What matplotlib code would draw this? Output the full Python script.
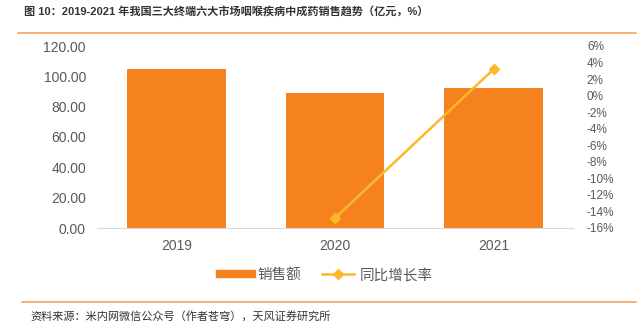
import matplotlib
matplotlib.use("Agg")
import matplotlib.pyplot as plt
from matplotlib.lines import Line2D

# data
years = ["2019", "2020", "2021"]
sales = [104.9, 89.2, 92.3]          # 销售额 (亿元)
growth = [None, -14.8, 3.2]          # 同比增长率 (%)
left_ticks = [0, 20, 40, 60, 80, 100, 120]
right_ticks = list(range(-16, 7, 2))

title = "图 10：2019-2021 年我国三大终端六大市场咽喉疾病中成药销售趋势（亿元，%）"
source = "资料来源：米内网微信公众号（作者苍穹），天风证券研究所"

plt.rcParams['font.family'] = ['Liberation Sans', 'Noto Sans CJK SC', 'DejaVu Sans']

bar_color = "#F5821F"
line_color = "#FBB829"
tick_color = "#595959"

fig = plt.figure(figsize=(6.4, 3.29), dpi=100)
ax = fig.add_axes([97 / 640, 1 - 228 / 329, 476 / 640, 182 / 329])

x = list(range(len(years)))
ax.bar(x, sales, width=0.62, color=bar_color, zorder=2)
ax.set_xlim(-0.5, 2.5)
ax.set_ylim(0, 120)
ax.set_yticks(left_ticks)
ax.set_yticklabels([f"{v:.2f}" for v in left_ticks], fontsize=10, color=tick_color)
ax.set_xticks(x)
ax.set_xticklabels(years, fontsize=10, color=tick_color)
ax.tick_params(axis='both', length=0, pad=8)
for s in ['top', 'right', 'left']:
    ax.spines[s].set_visible(False)
ax.spines['bottom'].set_color("#D9D9D9")

ax2 = ax.twinx()
gx = [i for i, g in enumerate(growth) if g is not None]
gy = [g for g in growth if g is not None]
ax2.plot(gx, gy, color=line_color, lw=1.8, marker='D', markersize=5, zorder=3)
ax2.set_ylim(-16, 6)
ax2.set_yticks(right_ticks)
ax2.set_yticklabels([f"{v}%" for v in right_ticks], fontsize=8.5, color=tick_color)
ax2.tick_params(axis='y', length=0, pad=10)
for s in ['top', 'right', 'left', 'bottom']:
    ax2.spines[s].set_visible(False)

handles = [
    Line2D([0], [0], color=bar_color, lw=6),
    Line2D([0], [0], color=line_color, lw=1.8, marker='D', markersize=5),
]
fig.legend(handles, ["销售额", "同比增长率"], loc='center', bbox_to_anchor=(0.51, 1 - 275 / 329),
           ncol=2, frameon=False, handlelength=2.2, handletextpad=0.4, columnspacing=1.4,
           labelcolor=tick_color, prop={'family': ['Noto Sans CJK SC'], 'size': 10.5})

fig.text(24 / 640, 1 - 12 / 329, title, fontsize=8, fontweight='bold', color="#333333",
         va='center', ha='left', family=['Liberation Sans', 'Noto Sans CJK SC'])
fig.add_artist(Line2D([18 / 640, 636 / 640], [1 - 33 / 329] * 2, color="#F4A460", lw=1.2))
fig.add_artist(Line2D([22 / 640, 636 / 640], [1 - 302 / 329] * 2, color="#F4A460", lw=1.2))
fig.text(30 / 640, 1 - 316 / 329, source, fontsize=8, color="#333333", va='center', ha='left',
         family=['Noto Sans CJK SC'])

fig.savefig("out.png", dpi=100)
